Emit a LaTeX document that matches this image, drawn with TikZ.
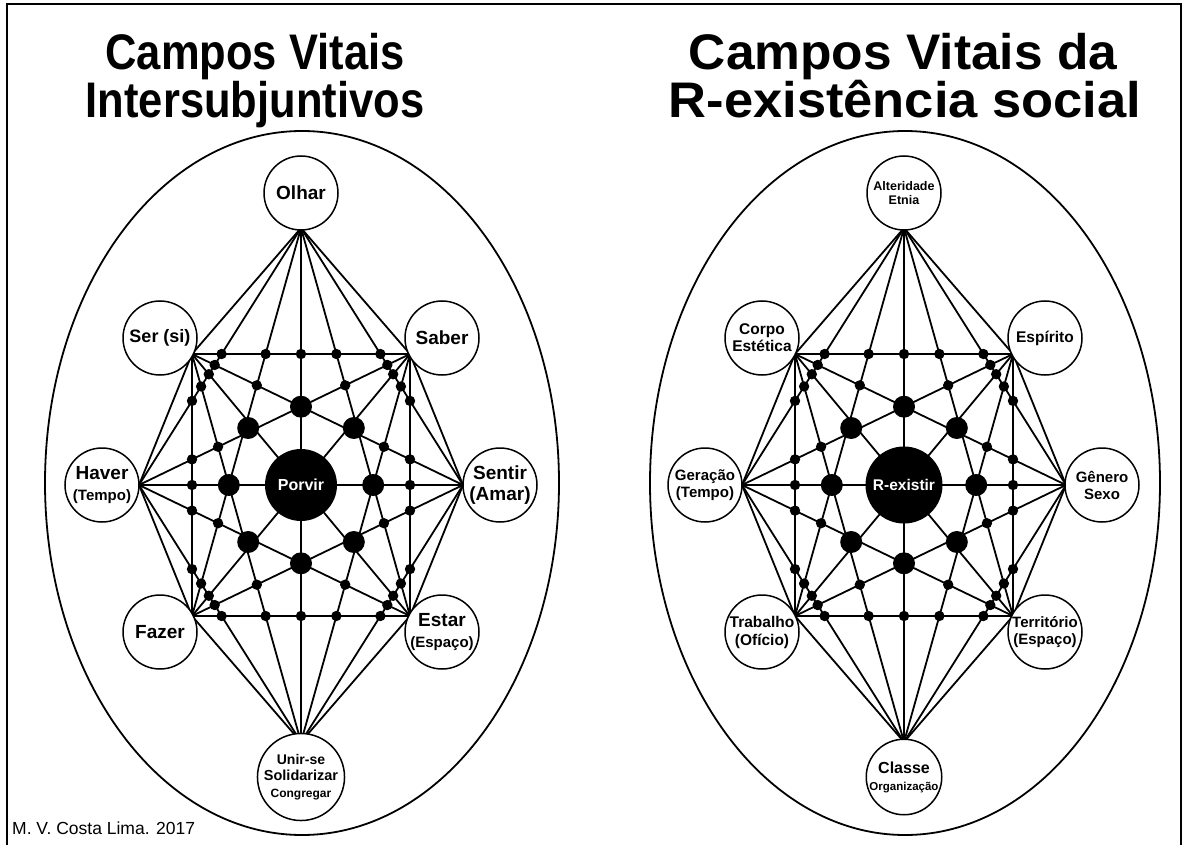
\documentclass[tikz,border=0pt]{standalone}
\usepackage{fontspec}
\setmainfont{Liberation Sans}
\newcommand{\fsz}[2]{\fontsize{#1}{#2}\selectfont}
\def\dotlist{1/2/3/4,1/2/3/5,1/2/3/6,1/2/3/7,1/2/3/8,1/2/4/7,1/2/4/8,1/2/5/8,1/2/6/8,1/2/7/8,%
1/3/4/5,1/3/4/6,1/3/6/8,1/3/7/8,1/4/5/6,1/4/6/7,1/4/7/8,1/5/6/7,1/5/7/8,1/6/7/8,%
2/3/4/5,2/3/4/6,2/3/4/7,2/3/4/8,2/3/5/8,2/4/5/6,2/4/5/7,2/5/6/7,2/5/7/8,2/6/7/8,%
3/4/5/6,3/4/5/7,3/4/5/8,3/5/6/7,3/5/6/8,3/6/7/8,4/5/6/7,4/5/6/8,4/6/7/8,5/6/7/8}
\def\vx{{0,1.09,1.62,1.09,0,-1.09,-1.62,-1.09}}
\def\vy{{-2.57,-1.31,0,1.31,2.57,1.31,0,-1.31}}
% #1 centre, #2 prefix, #3 hub size, #4 hub text
\newcommand{\fieldnet}[4]{%
\begin{scope}[shift={#1}]
 \coordinate (#21) at (0,-257);
 \coordinate (#22) at (109,-131);
 \coordinate (#23) at (162,0);
 \coordinate (#24) at (109,131);
 \coordinate (#25) at (0,257);
 \coordinate (#26) at (-109,131);
 \coordinate (#27) at (-162,0);
 \coordinate (#28) at (-109,-131);
 \foreach \i in {1,...,7}{\foreach \j in {\i,...,8}{\ifnum\i<\j \draw[net] (#2\i) -- (#2\j);\fi}}
 \foreach \a/\b/\c/\d in \dotlist {%
   \pgfmathsetmacro\xa{\vx[\a-1]}\pgfmathsetmacro\ya{\vy[\a-1]}%
   \pgfmathsetmacro\xb{\vx[\b-1]}\pgfmathsetmacro\yb{\vy[\b-1]}%
   \pgfmathsetmacro\xc{\vx[\c-1]}\pgfmathsetmacro\yc{\vy[\c-1]}%
   \pgfmathsetmacro\xd{\vx[\d-1]}\pgfmathsetmacro\yd{\vy[\d-1]}%
   \pgfmathsetmacro\den{(\xa-\xc)*(\yb-\yd)-(\ya-\yc)*(\xb-\xd)}%
   \pgfmathsetmacro\tt{((\xa-\xb)*(\yb-\yd)-(\ya-\yb)*(\xb-\xd))/\den}%
   \pgfmathsetmacro\px{100*(\xa+\tt*(\xc-\xa))}%
   \pgfmathsetmacro\py{100*(\ya+\tt*(\yc-\ya))}%
   \fill (\px,\py) circle (5.2);}
 \foreach \p in {(0,-78.3),(0,78.3),(-72.2,0),(72.2,0),(-52.8,-57),(52.8,-57),(-52.8,57),(52.8,57)} {\fill \p circle (11);}
 \node[hub, minimum size=#3] (#2c) at (0,0) {#4};
\end{scope}}
\begin{document}
\begin{tikzpicture}[x=1pt,y=-1pt,
 net/.style={line width=1.8pt, line cap=round},
 lab/.style={circle, draw, fill=white, line width=1.5pt, minimum size=74pt, inner sep=0pt, align=center},
 hub/.style={circle, fill=black, text=white, inner sep=0pt, font=\bfseries},
 ttl/.style={anchor=base, font=\bfseries\fsz{50}{50}, inner sep=0pt}]
\useasboundingbox (0,0) rectangle (1187,845);
\fill[white] (0,0) rectangle (1187,845);
\draw[line width=1.5pt] (7,850) -- (7,4) -- (1181,4) -- (1181,850);
% titles
\node[ttl, xscale=0.87] (t1) at (255,70) {Campos Vitais};
\node[ttl, xscale=0.87] (t2) at (255,118) {Intersubjuntivos};
\node[ttl, xscale=1.03] (t3) at (903,70) {Campos Vitais da};
\node[ttl, xscale=1.05] (t4) at (905,118) {R-existência social};
% ellipses
\draw[line width=1.8pt] (302,483) ellipse [x radius=257, y radius=352];
\draw[line width=1.8pt] (905,483) ellipse [x radius=255, y radius=352];
% networks
\fieldnet{(301,485)}{A}{72pt}{\fsz{16}{18}Porvir}
\fieldnet{(904,485)}{B}{77pt}{\fsz{15.5}{18}R-existir}
% left labels
\node[lab, font=\bfseries\fsz{19}{21}] (olhar) at (301,193) {Olhar};
\node[lab, font=\bfseries\fsz{18}{20}] (ser) at (160,338) {Ser (si)};
\node[lab, font=\bfseries\fsz{19}{21}] (saber) at (442,338) {Saber};
\node[lab, font=\bfseries\fsz{19}{21}] (haver) at (102,485) {Haver\\{\fsz{15}{20}(Tempo)}};
\node[lab, font=\bfseries\fsz{19}{21}] (sentir) at (500,485) {Sentir\\(Amar)};
\node[lab, font=\bfseries\fsz{19}{21}] (fazer) at (160,632) {Fazer};
\node[lab, font=\bfseries\fsz{19}{21}] (estar) at (442,632) {Estar\\{\fsz{15}{20}(Espaço)}};
\node[lab, font=\bfseries\fsz{14}{16.5}] (unir) at (301,777) {Unir-se\\{\fsz{14.5}{16.5}Solidarizar}\\{\fsz{12}{16.5}Congregar}};
% right labels
\node[lab, font=\bfseries\fsz{12.5}{14.5}] (alter) at (904,193) {Alteridade\\Etnia};
\node[lab, font=\bfseries\fsz{15.5}{17}] (corpo) at (762,338) {Corpo\\Estética};
\node[lab, font=\bfseries\fsz{15.5}{17}] (espir) at (1045,338) {Espírito};
\node[lab, font=\bfseries\fsz{15}{17}] (gera) at (705,485) {Geração\\(Tempo)};
\node[lab, font=\bfseries\fsz{15}{17}] (gene) at (1102,485) {Gênero\\Sexo};
\node[lab, font=\bfseries\fsz{15.5}{18}] (trab) at (762,632) {Trabalho\\(Ofício)};
\node[lab, font=\bfseries\fsz{15}{17}] (terr) at (1045,632) {Território\\(Espaço)};
\node[lab, font=\bfseries\fsz{16}{17}] (classe) at (904,777) {Classe\\{\fsz{11.5}{17}Organização}};
% footer
\node[anchor=base west, font=\fsz{17.5}{19}, inner sep=0pt] (foot) at (12,834) {M. V. Costa Lima. 2017};
\end{tikzpicture}
\end{document}
